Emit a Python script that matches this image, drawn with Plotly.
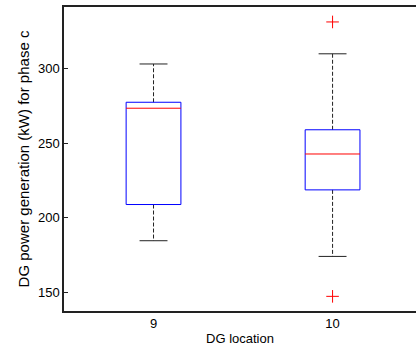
import plotly.graph_objects as go

categories = ["9", "10"]
q1 = [208.9, 218.7]
medians = [273.3, 242.7]
q3 = [277.3, 258.9]
whisker_low = [184.7, 174.2]
whisker_high = [302.9, 309.7]
outlier_cat = ["10", "10"]
outlier_val = [331.0, 147.5]

pos = {c: i + 1 for i, c in enumerate(categories)}
BOX_HW = 0.153
CAP_HW = 0.078

box_x, box_y = [], []
med_x, med_y = [], []
wh_x, wh_y = [], []
cap_x, cap_y = [], []
for i, c in enumerate(categories):
    p = pos[c]
    box_x += [p - BOX_HW, p + BOX_HW, p + BOX_HW, p - BOX_HW, p - BOX_HW, None]
    box_y += [q1[i], q1[i], q3[i], q3[i], q1[i], None]
    med_x += [p - BOX_HW, p + BOX_HW, None]
    med_y += [medians[i], medians[i], None]
    wh_x += [p, p, None, p, p, None]
    wh_y += [q3[i], whisker_high[i], None, q1[i], whisker_low[i], None]
    cap_x += [p - CAP_HW, p + CAP_HW, None, p - CAP_HW, p + CAP_HW, None]
    cap_y += [whisker_high[i], whisker_high[i], None, whisker_low[i], whisker_low[i], None]

fig = go.Figure()
fig.add_trace(go.Scatter(x=wh_x, y=wh_y, mode="lines",
                         line=dict(color="#222222", width=1, dash="4px,2px"),
                         hoverinfo="skip", showlegend=False))
fig.add_trace(go.Scatter(x=cap_x, y=cap_y, mode="lines",
                         line=dict(color="#222222", width=1),
                         hoverinfo="skip", showlegend=False))
fig.add_trace(go.Scatter(x=box_x, y=box_y, mode="lines",
                         line=dict(color="#0000ff", width=1),
                         hoverinfo="skip", showlegend=False))
fig.add_trace(go.Scatter(x=med_x, y=med_y, mode="lines",
                         line=dict(color="#ff0000", width=1),
                         hoverinfo="skip", showlegend=False))
fig.add_trace(go.Scatter(x=[pos[c] for c in outlier_cat], y=outlier_val, mode="markers",
                         marker=dict(symbol="cross-thin", size=9,
                                     line=dict(color="#ff0000", width=1)),
                         hoverinfo="skip", showlegend=False))

font = "Liberation Sans, Arial, Helvetica, sans-serif"
fig.update_layout(
    width=416, height=352,
    margin=dict(l=64, r=0, t=7, b=41),
    paper_bgcolor="white", plot_bgcolor="white",
    font=dict(family=font, size=13, color="black"),
    xaxis=dict(range=[0.5, 2.466], tickvals=[pos[c] for c in categories],
               ticktext=categories, showgrid=False, zeroline=False,
               showline=True, linecolor="#222222", linewidth=1.5, mirror=True,
               ticks="", title=dict(text="DG location", standoff=4,
                                    font=dict(size=13))),
    yaxis=dict(range=[137.7, 341], tickvals=[150, 200, 250, 300],
               showgrid=False, zeroline=False, showline=True,
               linecolor="#222222", linewidth=1.5, mirror=False,
               ticks="inside", ticklen=4, tickcolor="#222222",
               title=dict(text="DG power generation (kW) for phase c",
                          standoff=5, font=dict(size=15))),
)

fig.write_html("out.html")
